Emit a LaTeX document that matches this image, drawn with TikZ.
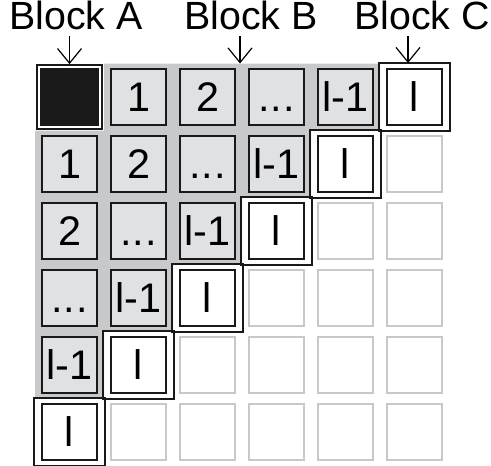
\documentclass[tikz,border=0pt]{standalone}
\usepackage{fontspec}
\setmainfont{Liberation Sans}
\usetikzlibrary{arrows.meta, fit}
\definecolor{regiongray}{RGB}{200, 201, 203}
\definecolor{cellgray}{RGB}{224, 225, 227}
\definecolor{emptygray}{RGB}{200, 200, 200}
\newcommand{\cellname}[1]{\ifcase#1\or 1\or 2\or .\kern0.02em.\kern0.02em.\or l-1\or l\fi}

\tikzset{
  cellbase/.style={minimum width=41.25pt, minimum height=41.5pt, inner sep=0pt, line width=1.4pt,
    text height=22.2pt, text depth=0pt, font=\fontsize{31}{31}\selectfont},
  graycell/.style={cellbase, draw=black!90, fill=cellgray},
  diagcell/.style={cellbase, draw=black!90, fill=white},
  emptycell/.style={cellbase, draw=emptygray, fill=white},
  diagframe/.style={draw=black!90, line width=1.3pt, inner xsep=5.2pt, inner ysep=4.1pt},
  blocklabel/.style={font=\fontsize{29.5}{32}\selectfont, inner sep=5pt, anchor=base},
  blockarrow/.style={-{Straight Barb[length=11pt, width=18pt]}, line width=0.9pt}
}

\begin{document}
\begin{tikzpicture}[x=0.75pt, y=-0.75pt]
  \useasboundingbox (0,0) rectangle (491,465);

  % Block B region
  \fill[regiongray] (104,63.5) -- (380,63.5) -- (380,130.5) -- (311,130.5) -- (311,197.5)
    -- (242,197.5) -- (242,264.5) -- (173,264.5) -- (173,331.5) -- (104,331.5)
    -- (104,398.5) -- (35,398.5) -- (35,130.5) -- (104,130.5) -- cycle;

  % the cells
  \foreach \r in {0,...,5}{
    \foreach \c in {0,...,5}{
      \pgfmathtruncatemacro\k{\r+\c}
      \ifnum\k>5
        \node[emptycell] (c\r\c) at ({69.5+69*\c},{97+67*\r}) {};
      \else\ifnum\k=5
        \node[diagcell] (c\r\c) at ({69.5+69*\c},{97+67*\r}) {\cellname{\k}};
        \node[diagframe, fit=(c\r\c)] (f\r\c) {};
      \else\ifnum\k>0
        \node[graycell] (c\r\c) at ({69.5+69*\c},{97+67*\r}) {\cellname{\k}};
      \fi\fi\fi
    }
  }

  % Block A
  \node[fill=black!90, minimum width=44pt, minimum height=43pt, inner sep=0pt] (blockA) at (69.5,97) {};
  \node[draw=black!90, line width=1.3pt, inner sep=2.3pt, fit=(blockA)] (fA) {};

  % labels
  \node[blocklabel] (labA) at (76,29) {Block A};
  \node[blocklabel] (labB) at (251,29) {Block B};
  \node[blocklabel] (labC) at (422,29) {Block C};

  \coordinate (bTip) at (240,63.5);
  \coordinate (cTip) at (408,63);
  \draw[blockarrow] (labA.south -| fA.north) -- (fA.north);
  \draw[blockarrow] (labB.south -| bTip) -- (bTip);
  \draw[blockarrow] (labC.south -| cTip) -- (cTip);
\end{tikzpicture}
\end{document}
